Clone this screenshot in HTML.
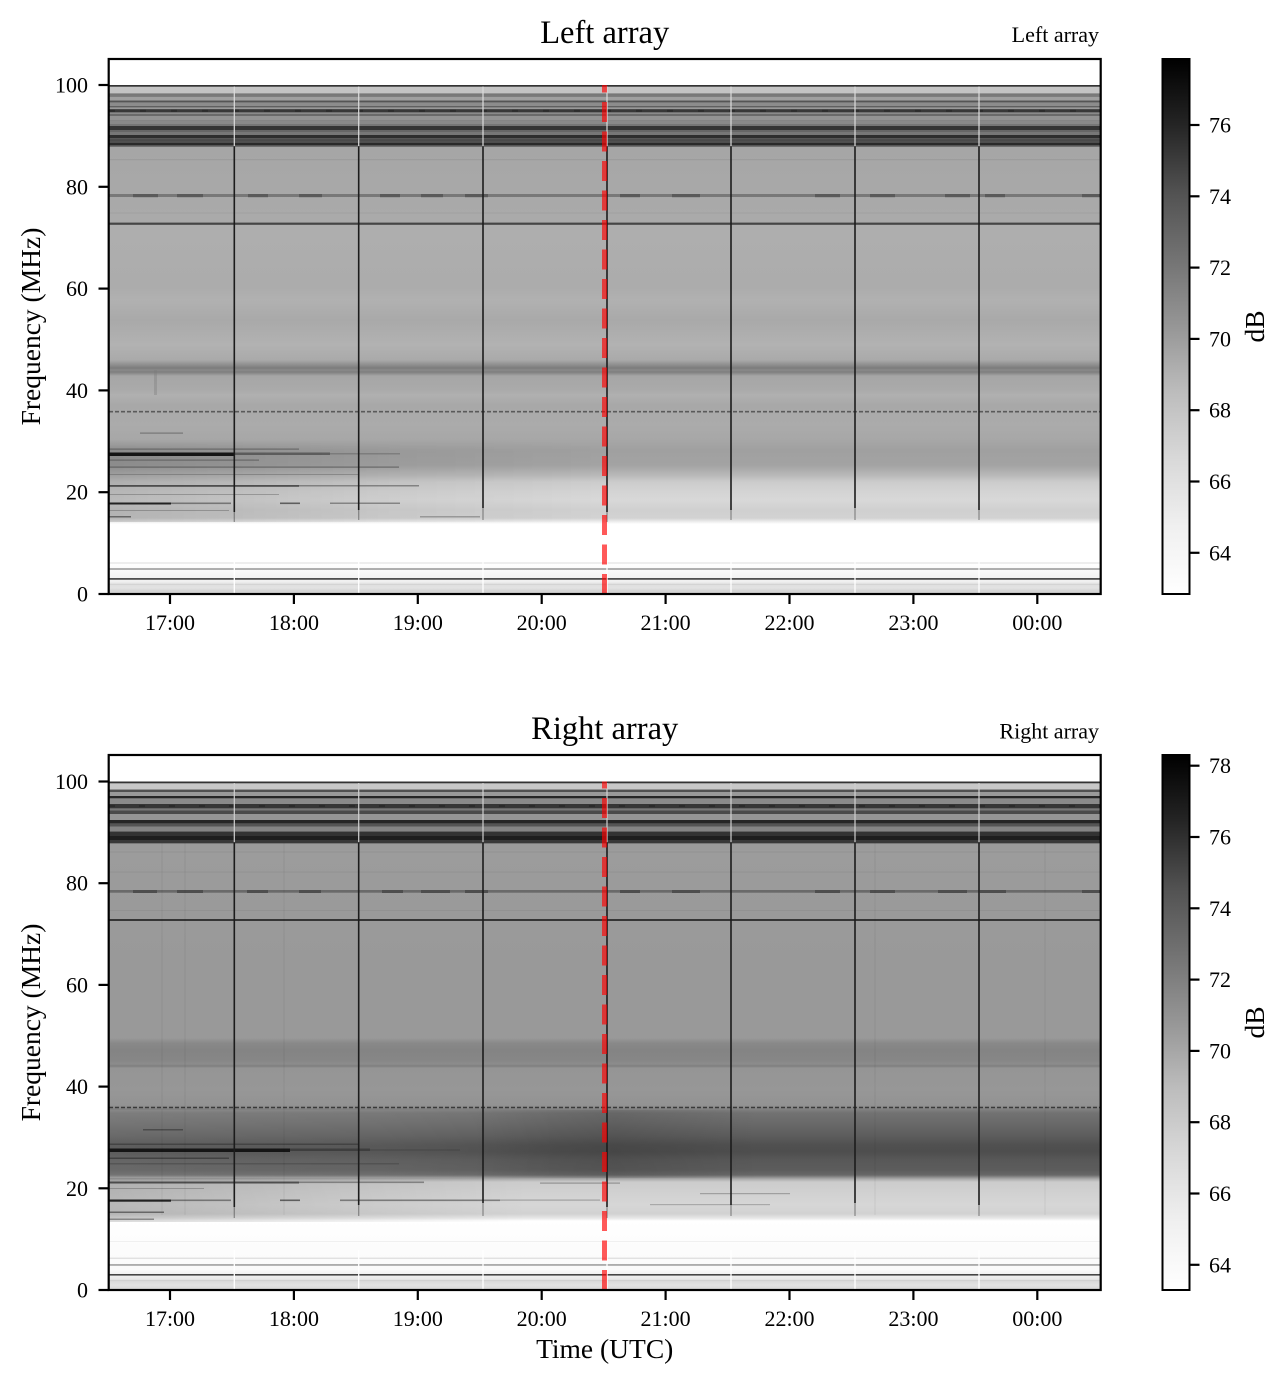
<!DOCTYPE html>
<html><head><meta charset="utf-8"><style>
html,body{margin:0;padding:0;background:#fff;}
svg{display:block;}
text{font-family:"Liberation Serif","DejaVu Serif",serif;fill:#000;}
</style></head><body>
<svg width="1286" height="1386" viewBox="0 0 1286 1386" xmlns="http://www.w3.org/2000/svg">
<defs>
<linearGradient id="gTop" gradientUnits="userSpaceOnUse" x1="0" y1="85" x2="0" y2="594">
<stop offset="0" stop-color="#3a3a3a"/><stop offset="0.1198" stop-color="#3a3a3a"/>
<stop offset="0.1218" stop-color="#a6a6a6"/><stop offset="0.2692" stop-color="#aaaaaa"/>
<stop offset="0.2756" stop-color="#aeaeae"/><stop offset="0.3438" stop-color="#adadad"/>
<stop offset="0.3988" stop-color="#acacac"/><stop offset="0.4224" stop-color="#b1b1b1"/>
<stop offset="0.4617" stop-color="#a9a9a9"/><stop offset="0.5108" stop-color="#b2b2b2"/>
<stop offset="0.5403" stop-color="#aaaaaa"/><stop offset="0.5501" stop-color="#8e8e8e"/>
<stop offset="0.5560" stop-color="#7c7c7c"/><stop offset="0.5599" stop-color="#8a8a8a"/>
<stop offset="0.5639" stop-color="#7e7e7e"/>
<stop offset="0.5717" stop-color="#a6a6a6"/><stop offset="0.5992" stop-color="#aaaaaa"/>
<stop offset="0.6090" stop-color="#b0b0b0"/><stop offset="0.6287" stop-color="#a8a8a8"/>
<stop offset="0.6680" stop-color="#ababab"/><stop offset="0.6974" stop-color="#a7a7a7"/>
<stop offset="0.7171" stop-color="#a0a0a0"/><stop offset="0.7466" stop-color="#a3a3a3"/>
<stop offset="0.7662" stop-color="#b8b8b8"/><stop offset="0.7800" stop-color="#cccccc"/>
<stop offset="0.7996" stop-color="#d4d4d4"/><stop offset="0.8153" stop-color="#d8d8d8"/>
<stop offset="0.8350" stop-color="#d0d0d0"/><stop offset="0.8507" stop-color="#d2d2d2"/>
<stop offset="0.8566" stop-color="#e8e8e8"/><stop offset="0.8625" stop-color="#ffffff"/>
<stop offset="0.9411" stop-color="#ffffff"/><stop offset="0.9764" stop-color="#f0f0f0"/>
<stop offset="0.9804" stop-color="#dedede"/><stop offset="0.9882" stop-color="#e2e2e2"/>
<stop offset="0.9941" stop-color="#d4d4d4"/><stop offset="1" stop-color="#dddddd"/>
</linearGradient>
<linearGradient id="gBot" gradientUnits="userSpaceOnUse" x1="0" y1="781.5" x2="0" y2="1290">
<stop offset="0" stop-color="#3a3a3a"/><stop offset="0.1209" stop-color="#3a3a3a"/>
<stop offset="0.1219" stop-color="#9c9c9c"/><stop offset="0.3510" stop-color="#999999"/>
<stop offset="0.5044" stop-color="#999999"/><stop offset="0.5143" stop-color="#898989"/>
<stop offset="0.5280" stop-color="#848484"/><stop offset="0.5477" stop-color="#868686"/>
<stop offset="0.5556" stop-color="#8c8c8c"/><stop offset="0.5595" stop-color="#7e7e7e"/>
<stop offset="0.5634" stop-color="#959595"/><stop offset="0.6067" stop-color="#979797"/>
<stop offset="0.6362" stop-color="#939393"/><stop offset="0.6519" stop-color="#727272"/>
<stop offset="0.6755" stop-color="#686868"/><stop offset="0.6952" stop-color="#5e5e5e"/>
<stop offset="0.7149" stop-color="#505050"/><stop offset="0.7286" stop-color="#4e4e4e"/>
<stop offset="0.7444" stop-color="#585858"/><stop offset="0.7640" stop-color="#5c5c5c"/>
<stop offset="0.7738" stop-color="#686868"/><stop offset="0.7817" stop-color="#aaaaaa"/>
<stop offset="0.7876" stop-color="#cccccc"/><stop offset="0.8132" stop-color="#d2d2d2"/>
<stop offset="0.8328" stop-color="#d6d6d6"/><stop offset="0.8505" stop-color="#d2d2d2"/>
<stop offset="0.8584" stop-color="#e6e6e6"/><stop offset="0.8643" stop-color="#ffffff"/>
<stop offset="0.96" stop-color="#fafafa"/><stop offset="0.9784" stop-color="#e8e8e8"/>
<stop offset="0.9823" stop-color="#d8d8d8"/><stop offset="0.9902" stop-color="#e2e2e2"/>
<stop offset="1" stop-color="#d6d6d6"/>
</linearGradient>
<linearGradient id="cmap" x1="0" y1="0" x2="0" y2="1">
<stop offset="0" stop-color="#000000"/><stop offset="0.125" stop-color="#252525"/>
<stop offset="0.25" stop-color="#525252"/><stop offset="0.375" stop-color="#737373"/>
<stop offset="0.5" stop-color="#969696"/><stop offset="0.625" stop-color="#bdbdbd"/>
<stop offset="0.75" stop-color="#d9d9d9"/><stop offset="0.875" stop-color="#f0f0f0"/>
<stop offset="1" stop-color="#ffffff"/>
</linearGradient>
<linearGradient id="darkL" x1="0" y1="0" x2="1" y2="0">
<stop offset="0" stop-color="#000" stop-opacity="0.14"/>
<stop offset="0.25" stop-color="#000" stop-opacity="0.1"/>
<stop offset="0.6" stop-color="#000" stop-opacity="0.04"/>
<stop offset="1" stop-color="#000" stop-opacity="0"/>
</linearGradient>
<linearGradient id="darkLV" x1="0" y1="0" x2="0" y2="1">
<stop offset="0" stop-color="#fff" stop-opacity="0"/>
<stop offset="0.15" stop-color="#fff" stop-opacity="1"/>
<stop offset="1" stop-color="#fff" stop-opacity="1"/>
</linearGradient>
<mask id="mTopL"><rect x="109" y="440" width="491" height="82" fill="url(#darkLV)"/></mask>
<linearGradient id="lightL" x1="0" y1="0" x2="1" y2="0">
<stop offset="0" stop-color="#fff" stop-opacity="0.08"/>
<stop offset="0.6" stop-color="#fff" stop-opacity="0.05"/>
<stop offset="1" stop-color="#fff" stop-opacity="0"/>
</linearGradient>
<linearGradient id="darkMid" x1="0" y1="0" x2="1" y2="0">
<stop offset="0" stop-color="#000" stop-opacity="0"/>
<stop offset="0.5" stop-color="#000" stop-opacity="0.1"/>
<stop offset="1" stop-color="#000" stop-opacity="0"/>
</linearGradient>
<linearGradient id="darkB" x1="0" y1="0" x2="1" y2="0">
<stop offset="0" stop-color="#000" stop-opacity="0.14"/>
<stop offset="0.4" stop-color="#000" stop-opacity="0.08"/>
<stop offset="1" stop-color="#000" stop-opacity="0"/>
</linearGradient>
</defs>

<!-- ================= TOP PANEL ================= -->
<rect x="109" y="85" width="992" height="509" fill="url(#gTop)"/>
<g>
<rect x="109" y="85" width="992" height="1.7" fill="#333"/>
<rect x="109" y="86.7" width="992" height="6.6" fill="#c4c4c4"/>
<rect x="109" y="93.3" width="992" height="1" fill="#999"/>
<rect x="109" y="94.3" width="992" height="2.4" fill="#7a7a7a"/>
<rect x="109" y="96.7" width="992" height="4" fill="#a0a0a0"/>
<rect x="109" y="100.7" width="992" height="1.6" fill="#555"/>
<rect x="109" y="102.3" width="992" height="3.7" fill="#8c8c8c"/>
<rect x="109" y="106" width="992" height="1.3" fill="#606060"/>
<rect x="109" y="107.3" width="992" height="2" fill="#999"/>
<rect x="109" y="109.3" width="992" height="3" fill="#383838"/>
<rect x="109" y="112.3" width="992" height="1.7" fill="#8a8a8a"/>
<rect x="109" y="114" width="992" height="2" fill="#6a6a6a"/>
<rect x="109" y="116" width="992" height="4.7" fill="#939393"/>
<rect x="109" y="120.7" width="992" height="3.3" fill="#8a8a8a"/>
<rect x="109" y="124" width="992" height="2" fill="#777"/>
<rect x="109" y="126" width="992" height="4" fill="#353535"/>
<rect x="109" y="130" width="992" height="2" fill="#666"/>
<rect x="109" y="132" width="992" height="3" fill="#777"/>
<rect x="109" y="135" width="992" height="3.3" fill="#2e2e2e"/>
<rect x="109" y="138.3" width="992" height="1" fill="#666"/>
<rect x="109" y="139.3" width="992" height="2.4" fill="#4a4a4a"/>
<rect x="109" y="141.7" width="992" height="1" fill="#666"/>
<rect x="109" y="142.7" width="992" height="2.3" fill="#2a2a2a"/>
<rect x="109" y="145" width="992" height="1.5" fill="#555"/>
<line x1="109" y1="110.8" x2="1101" y2="110.8" stroke="#111" stroke-width="2" stroke-dasharray="6 25" opacity="0.3"/>
</g>
<rect x="109" y="159" width="992" height="1.2" fill="#9c9c9c"/>
<rect x="109" y="194" width="992" height="3" fill="#787878"/>
<g fill="#5a5a5a">
<rect x="133" y="194" width="25" height="3.2"/><rect x="177" y="194" width="26" height="3.2"/>
<rect x="248" y="194" width="20" height="3.2"/><rect x="299" y="194" width="23" height="3.2"/>
<rect x="380" y="194" width="20" height="3.2"/><rect x="421" y="194" width="22" height="3.2"/>
<rect x="465" y="194" width="23" height="3.2"/><rect x="620" y="194" width="20" height="3.2"/>
<rect x="672" y="194" width="28" height="3.2"/><rect x="815" y="194" width="25" height="3.2"/>
<rect x="870" y="194" width="25" height="3.2"/><rect x="945" y="194" width="25" height="3.2"/>
<rect x="985" y="194" width="20" height="3.2"/><rect x="1082" y="194" width="18" height="3.2"/>
</g>
<rect x="109" y="212.5" width="992" height="1" fill="#a0a0a0"/>
<rect x="109" y="222.6" width="992" height="2.2" fill="#454545"/>
<line x1="109" y1="411.7" x2="1101" y2="411.7" stroke="#5a5a5a" stroke-width="1.6" stroke-dasharray="4 2"/>
<rect x="109" y="562.5" width="992" height="1" fill="#dcdcdc"/>
<rect x="109" y="568.3" width="992" height="1.4" fill="#8e8e8e"/>
<rect x="109" y="578" width="992" height="1.8" fill="#505050"/>
<rect x="109" y="584" width="992" height="1" fill="#d4d4d4"/>
<rect x="109" y="440" width="491" height="82" fill="url(#darkL)" mask="url(#mTopL)"/>
<g>
<rect x="109" y="452.5" width="126" height="3.5" fill="#151515"/>
<rect x="235" y="452.5" width="95" height="2.5" fill="#444" opacity="0.7"/>
<rect x="330" y="453" width="70" height="1.5" fill="#555" opacity="0.4"/>
<rect x="109" y="448.5" width="190" height="1.2" fill="#555" opacity="0.7"/>
<rect x="109" y="459.5" width="150" height="1.2" fill="#555" opacity="0.7"/>
<rect x="109" y="466.5" width="290" height="1.2" fill="#444" opacity="0.6"/>
<rect x="109" y="485" width="190" height="1.8" fill="#333" opacity="0.8"/>
<rect x="299" y="485" width="120" height="1.5" fill="#555" opacity="0.6"/>
<rect x="109" y="502.5" width="62" height="2" fill="#222"/>
<rect x="171" y="502.5" width="60" height="1.6" fill="#555" opacity="0.7"/>
<rect x="280" y="502.5" width="20" height="1.6" fill="#333" opacity="0.7"/>
<rect x="330" y="502.5" width="70" height="1.5" fill="#555" opacity="0.6"/>
<rect x="109" y="516" width="22" height="1.5" fill="#444" opacity="0.7"/>
<rect x="420" y="516" width="60" height="1.5" fill="#666" opacity="0.5"/>
<rect x="140" y="432.5" width="43" height="1.2" fill="#555" opacity="0.6"/>
<rect x="109" y="474" width="250" height="1" fill="#555" opacity="0.4"/>
<rect x="109" y="494" width="170" height="1" fill="#555" opacity="0.4"/>
<rect x="109" y="510" width="120" height="1" fill="#555" opacity="0.4"/>
<rect x="154" y="370" width="3" height="25" fill="#777" opacity="0.35"/>
</g>
<g>
<g stroke="#dcdcdc" stroke-width="1.2">
<line x1="234.3" y1="86.5" x2="234.3" y2="146"/><line x1="358.7" y1="86.5" x2="358.7" y2="146"/>
<line x1="483" y1="86.5" x2="483" y2="146"/><line x1="607" y1="86.5" x2="607" y2="146"/>
<line x1="731" y1="86.5" x2="731" y2="146"/><line x1="855" y1="86.5" x2="855" y2="146"/>
<line x1="979" y1="86.5" x2="979" y2="146"/>
</g>
<g stroke="#1c1c1c" stroke-width="1.6">
<line x1="234.3" y1="146.5" x2="234.3" y2="512"/><line x1="358.7" y1="146.5" x2="358.7" y2="510"/>
<line x1="483" y1="146.5" x2="483" y2="508"/><line x1="607" y1="146.5" x2="607" y2="512"/>
<line x1="731" y1="146.5" x2="731" y2="510"/><line x1="855" y1="146.5" x2="855" y2="508"/>
<line x1="979" y1="146.5" x2="979" y2="510"/>
</g>
<g stroke="#444" stroke-width="1.3" opacity="0.5">
<line x1="234.3" y1="512" x2="234.3" y2="522"/><line x1="358.7" y1="510" x2="358.7" y2="520"/>
<line x1="483" y1="508" x2="483" y2="520"/><line x1="607" y1="512" x2="607" y2="522"/>
<line x1="731" y1="510" x2="731" y2="520"/><line x1="855" y1="508" x2="855" y2="520"/>
<line x1="979" y1="510" x2="979" y2="520"/>
</g>
<g stroke="#fff" stroke-width="1.3">
<line x1="234.3" y1="560" x2="234.3" y2="593"/><line x1="358.7" y1="560" x2="358.7" y2="593"/>
<line x1="483" y1="560" x2="483" y2="593"/><line x1="607" y1="560" x2="607" y2="593"/>
<line x1="731" y1="560" x2="731" y2="593"/><line x1="855" y1="560" x2="855" y2="593"/>
<line x1="979" y1="560" x2="979" y2="593"/>
</g>
</g>
<line x1="604.5" y1="594" x2="604.5" y2="85" stroke="#ff0000" stroke-opacity="0.65" stroke-width="5" stroke-dasharray="20 9.5"/>
<rect x="108.7" y="59" width="992" height="535" fill="none" stroke="#000" stroke-width="2.2"/>
<g stroke="#000" stroke-width="2.2">
<line x1="98.5" y1="594" x2="108.7" y2="594"/><line x1="98.5" y1="492.2" x2="108.7" y2="492.2"/>
<line x1="98.5" y1="390.4" x2="108.7" y2="390.4"/><line x1="98.5" y1="288.6" x2="108.7" y2="288.6"/>
<line x1="98.5" y1="186.8" x2="108.7" y2="186.8"/><line x1="98.5" y1="85" x2="108.7" y2="85"/>
<line x1="170" y1="594" x2="170" y2="604"/><line x1="293.9" y1="594" x2="293.9" y2="604"/>
<line x1="417.8" y1="594" x2="417.8" y2="604"/><line x1="541.7" y1="594" x2="541.7" y2="604"/>
<line x1="665.6" y1="594" x2="665.6" y2="604"/><line x1="789.5" y1="594" x2="789.5" y2="604"/>
<line x1="913.4" y1="594" x2="913.4" y2="604"/><line x1="1037.3" y1="594" x2="1037.3" y2="604"/>
</g>
<g font-size="22" text-anchor="end">
<text x="88" y="601.5">0</text><text x="88" y="499.7">20</text><text x="88" y="397.9">40</text>
<text x="88" y="296.1">60</text><text x="88" y="194.3">80</text><text x="88" y="92.5">100</text>
</g>
<g font-size="22" text-anchor="middle">
<text x="170" y="630">17:00</text><text x="293.9" y="630">18:00</text><text x="417.8" y="630">19:00</text>
<text x="541.7" y="630">20:00</text><text x="665.6" y="630">21:00</text><text x="789.5" y="630">22:00</text>
<text x="913.4" y="630">23:00</text><text x="1037.3" y="630">00:00</text>
</g>
<text x="604.7" y="43" font-size="32.5" text-anchor="middle">Left array</text>
<text x="1099" y="42" font-size="22" text-anchor="end">Left array</text>
<text transform="translate(40,326.5) rotate(-90)" font-size="27.5" text-anchor="middle">Frequency (MHz)</text>
<rect x="1162.5" y="59" width="27" height="535" fill="url(#cmap)" stroke="#000" stroke-width="2"/>
<g stroke="#000" stroke-width="2.2">
<line x1="1189.5" y1="125" x2="1199.5" y2="125"/><line x1="1189.5" y1="196.3" x2="1199.5" y2="196.3"/>
<line x1="1189.5" y1="267.6" x2="1199.5" y2="267.6"/><line x1="1189.5" y1="338.9" x2="1199.5" y2="338.9"/>
<line x1="1189.5" y1="410.2" x2="1199.5" y2="410.2"/><line x1="1189.5" y1="481.5" x2="1199.5" y2="481.5"/>
<line x1="1189.5" y1="552.8" x2="1199.5" y2="552.8"/>
</g>
<g font-size="22">
<text x="1209" y="132.5">76</text><text x="1209" y="203.8">74</text><text x="1209" y="275.1">72</text>
<text x="1209" y="346.4">70</text><text x="1209" y="417.7">68</text><text x="1209" y="489">66</text>
<text x="1209" y="560.3">64</text>
</g>
<text transform="translate(1264,326.5) rotate(-90)" font-size="27.5" text-anchor="middle">dB</text>

<!-- ================= BOTTOM PANEL ================= -->
<rect x="109" y="781.5" width="992" height="508.5" fill="url(#gBot)"/>
<g>
<rect x="109" y="781.5" width="992" height="1.8" fill="#333"/>
<rect x="109" y="783.3" width="992" height="6.4" fill="#c8c8c8"/>
<rect x="109" y="789.7" width="992" height="2.3" fill="#505050"/>
<rect x="109" y="792" width="992" height="4" fill="#999"/>
<rect x="109" y="796" width="992" height="2.3" fill="#262626"/>
<rect x="109" y="798.3" width="992" height="5.7" fill="#8a8a8a"/>
<rect x="109" y="804" width="992" height="4.3" fill="#363636"/>
<rect x="109" y="808.3" width="992" height="2.4" fill="#777"/>
<rect x="109" y="810.7" width="992" height="3.3" fill="#4a4a4a"/>
<rect x="109" y="814" width="992" height="6" fill="#959595"/>
<rect x="109" y="820" width="992" height="3.3" fill="#262626"/>
<rect x="109" y="823.3" width="992" height="3.2" fill="#555"/>
<rect x="109" y="826.5" width="992" height="5.2" fill="#858585"/>
<rect x="109" y="831.7" width="992" height="4.3" fill="#333"/>
<rect x="109" y="836" width="992" height="4" fill="#1e1e1e"/>
<rect x="109" y="840" width="992" height="3.2" fill="#3a3a3a"/>
<line x1="109" y1="806" x2="1101" y2="806" stroke="#111" stroke-width="2" stroke-dasharray="6 24" opacity="0.3"/>
</g>
<rect x="109" y="851.5" width="992" height="1" fill="#929292"/>
<rect x="109" y="871.5" width="992" height="1" fill="#929292"/>
<rect x="109" y="890" width="992" height="2.7" fill="#6a6a6a"/>
<g fill="#4e4e4e">
<rect x="133" y="890" width="24" height="3"/><rect x="177" y="890" width="26" height="3"/>
<rect x="247" y="890" width="21" height="3"/><rect x="299" y="890" width="22" height="3"/>
<rect x="382" y="890" width="21" height="3"/><rect x="421" y="890" width="29" height="3"/>
<rect x="465" y="890" width="23" height="3"/><rect x="620" y="890" width="20" height="3"/>
<rect x="672" y="890" width="28" height="3"/><rect x="815" y="890" width="25" height="3"/>
<rect x="870" y="890" width="25" height="3"/><rect x="938" y="890" width="29" height="3"/>
<rect x="980" y="890" width="26" height="3"/><rect x="1082" y="890" width="18" height="3"/>
</g>
<rect x="109" y="910" width="992" height="1" fill="#929292"/>
<rect x="109" y="919" width="992" height="2" fill="#353535"/>
<line x1="109" y1="1107.5" x2="1101" y2="1107.5" stroke="#3a3a3a" stroke-width="1.6" stroke-dasharray="4 2"/>
<rect x="109" y="1241" width="992" height="1" fill="#f0f0f0"/>
<rect x="109" y="1257.7" width="992" height="1" fill="#d6d6d6"/>
<rect x="109" y="1264.3" width="992" height="1.3" fill="#8a8a8a"/>
<rect x="109" y="1274" width="992" height="1.6" fill="#454545"/>
<rect x="109" y="1280" width="992" height="1" fill="#d0d0d0"/>
<rect x="109" y="1110" width="451" height="68" fill="url(#lightL)"/>
<rect x="470" y="1110" width="290" height="68" fill="url(#darkMid)"/>
<rect x="109" y="1178" width="420" height="44" fill="url(#darkB)"/>
<g>
<rect x="109" y="1148.5" width="181" height="3.5" fill="#151515"/>
<rect x="290" y="1148.5" width="80" height="2.5" fill="#333" opacity="0.7"/>
<rect x="370" y="1149" width="90" height="2" fill="#444" opacity="0.4"/>
<rect x="109" y="1143.5" width="250" height="1.5" fill="#333" opacity="0.6"/>
<rect x="109" y="1157.5" width="120" height="1.5" fill="#333" opacity="0.7"/>
<rect x="109" y="1163" width="290" height="1.5" fill="#444" opacity="0.5"/>
<rect x="109" y="1181.5" width="190" height="2" fill="#333" opacity="0.8"/>
<rect x="299" y="1181.5" width="125" height="1.6" fill="#555" opacity="0.6"/>
<rect x="109" y="1199.5" width="62" height="2.2" fill="#222"/>
<rect x="171" y="1199.5" width="60" height="1.6" fill="#555" opacity="0.7"/>
<rect x="280" y="1199.5" width="20" height="1.6" fill="#333" opacity="0.7"/>
<rect x="340" y="1199.5" width="160" height="1.6" fill="#444" opacity="0.6"/>
<rect x="109" y="1211.5" width="55" height="1.5" fill="#444" opacity="0.7"/>
<rect x="109" y="1218.5" width="45" height="1.5" fill="#555" opacity="0.6"/>
<rect x="109" y="1188" width="95" height="1" fill="#555" opacity="0.4"/>
<rect x="143" y="1129" width="40" height="1.5" fill="#333" opacity="0.6"/>
<rect x="540" y="1182.5" width="80" height="1.2" fill="#555" opacity="0.5"/>
<rect x="500" y="1199.5" width="100" height="1.2" fill="#555" opacity="0.4"/>
<rect x="700" y="1193" width="90" height="1.2" fill="#555" opacity="0.4"/>
<rect x="650" y="1204" width="120" height="1.2" fill="#555" opacity="0.35"/>
</g>
<g stroke="#000" stroke-width="1" opacity="0.06">
<line x1="162" y1="843" x2="162" y2="1215"/><line x1="185" y1="843" x2="185" y2="1215"/>
<line x1="284" y1="843" x2="284" y2="1215"/><line x1="875" y1="843" x2="875" y2="1215"/>
<line x1="1045" y1="843" x2="1045" y2="1215"/>
</g>
<g>
<g stroke="#d0d0d0" stroke-width="1.2">
<line x1="234.3" y1="783" x2="234.3" y2="842"/><line x1="358.7" y1="783" x2="358.7" y2="842"/>
<line x1="483" y1="783" x2="483" y2="842"/><line x1="607" y1="783" x2="607" y2="842"/>
<line x1="731" y1="783" x2="731" y2="842"/><line x1="855" y1="783" x2="855" y2="842"/>
<line x1="979" y1="783" x2="979" y2="842"/>
</g>
<g stroke="#1c1c1c" stroke-width="1.6">
<line x1="234.3" y1="843" x2="234.3" y2="1207"/><line x1="358.7" y1="843" x2="358.7" y2="1205"/>
<line x1="483" y1="843" x2="483" y2="1203"/><line x1="607" y1="843" x2="607" y2="1207"/>
<line x1="731" y1="843" x2="731" y2="1205"/><line x1="855" y1="843" x2="855" y2="1203"/>
<line x1="979" y1="843" x2="979" y2="1205"/>
</g>
<g stroke="#444" stroke-width="1.3" opacity="0.5">
<line x1="234.3" y1="1207" x2="234.3" y2="1218"/><line x1="358.7" y1="1205" x2="358.7" y2="1216"/>
<line x1="483" y1="1203" x2="483" y2="1216"/><line x1="607" y1="1207" x2="607" y2="1218"/>
<line x1="731" y1="1205" x2="731" y2="1216"/><line x1="855" y1="1203" x2="855" y2="1216"/>
<line x1="979" y1="1205" x2="979" y2="1216"/>
</g>
<g stroke="#fff" stroke-width="1.3">
<line x1="234.3" y1="1250" x2="234.3" y2="1289"/><line x1="358.7" y1="1250" x2="358.7" y2="1289"/>
<line x1="483" y1="1250" x2="483" y2="1289"/><line x1="607" y1="1250" x2="607" y2="1289"/>
<line x1="731" y1="1250" x2="731" y2="1289"/><line x1="855" y1="1250" x2="855" y2="1289"/>
<line x1="979" y1="1250" x2="979" y2="1289"/>
</g>
</g>
<line x1="604.5" y1="1290" x2="604.5" y2="781.5" stroke="#ff0000" stroke-opacity="0.65" stroke-width="5" stroke-dasharray="20 9.5"/>
<rect x="108.7" y="755" width="992" height="535" fill="none" stroke="#000" stroke-width="2.2"/>
<g stroke="#000" stroke-width="2.2">
<line x1="98.5" y1="1290" x2="108.7" y2="1290"/><line x1="98.5" y1="1188.3" x2="108.7" y2="1188.3"/>
<line x1="98.5" y1="1086.6" x2="108.7" y2="1086.6"/><line x1="98.5" y1="984.9" x2="108.7" y2="984.9"/>
<line x1="98.5" y1="883.2" x2="108.7" y2="883.2"/><line x1="98.5" y1="781.5" x2="108.7" y2="781.5"/>
<line x1="170" y1="1290" x2="170" y2="1300"/><line x1="293.9" y1="1290" x2="293.9" y2="1300"/>
<line x1="417.8" y1="1290" x2="417.8" y2="1300"/><line x1="541.7" y1="1290" x2="541.7" y2="1300"/>
<line x1="665.6" y1="1290" x2="665.6" y2="1300"/><line x1="789.5" y1="1290" x2="789.5" y2="1300"/>
<line x1="913.4" y1="1290" x2="913.4" y2="1300"/><line x1="1037.3" y1="1290" x2="1037.3" y2="1300"/>
</g>
<g font-size="22" text-anchor="end">
<text x="88" y="1297.5">0</text><text x="88" y="1195.8">20</text><text x="88" y="1094.1">40</text>
<text x="88" y="992.4">60</text><text x="88" y="890.7">80</text><text x="88" y="789">100</text>
</g>
<g font-size="22" text-anchor="middle">
<text x="170" y="1326">17:00</text><text x="293.9" y="1326">18:00</text><text x="417.8" y="1326">19:00</text>
<text x="541.7" y="1326">20:00</text><text x="665.6" y="1326">21:00</text><text x="789.5" y="1326">22:00</text>
<text x="913.4" y="1326">23:00</text><text x="1037.3" y="1326">00:00</text>
</g>
<text x="604.7" y="739" font-size="32.5" text-anchor="middle">Right array</text>
<text x="1099" y="738.3" font-size="22" text-anchor="end">Right array</text>
<text x="604.7" y="1358" font-size="27.5" text-anchor="middle">Time (UTC)</text>
<text transform="translate(40,1022.5) rotate(-90)" font-size="27.5" text-anchor="middle">Frequency (MHz)</text>
<rect x="1162.5" y="755" width="27" height="535" fill="url(#cmap)" stroke="#000" stroke-width="2"/>
<g stroke="#000" stroke-width="2.2">
<line x1="1189.5" y1="765.7" x2="1199.5" y2="765.7"/><line x1="1189.5" y1="837" x2="1199.5" y2="837"/>
<line x1="1189.5" y1="908.3" x2="1199.5" y2="908.3"/><line x1="1189.5" y1="979.6" x2="1199.5" y2="979.6"/>
<line x1="1189.5" y1="1050.9" x2="1199.5" y2="1050.9"/><line x1="1189.5" y1="1122.2" x2="1199.5" y2="1122.2"/>
<line x1="1189.5" y1="1193.5" x2="1199.5" y2="1193.5"/><line x1="1189.5" y1="1264.8" x2="1199.5" y2="1264.8"/>
</g>
<g font-size="22">
<text x="1209" y="773.2">78</text><text x="1209" y="844.5">76</text><text x="1209" y="915.8">74</text>
<text x="1209" y="987.1">72</text><text x="1209" y="1058.4">70</text><text x="1209" y="1129.7">68</text>
<text x="1209" y="1201">66</text><text x="1209" y="1272.3">64</text>
</g>
<text transform="translate(1264,1022.5) rotate(-90)" font-size="27.5" text-anchor="middle">dB</text>
</svg>
</body></html>
